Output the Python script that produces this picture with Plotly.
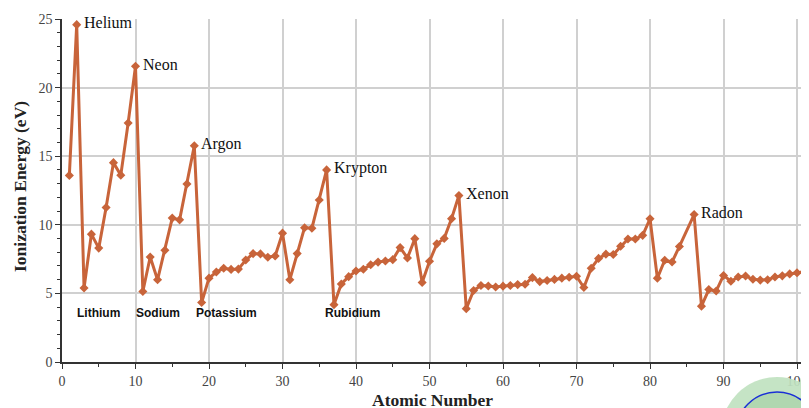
import plotly.graph_objects as go

atomic_number = list(range(1, 103))
ionization_ev = [
    13.60, 24.59, 5.39, 9.32, 8.30, 11.26, 14.53, 13.62, 17.42, 21.56,
    5.14, 7.65, 5.99, 8.15, 10.49, 10.36, 12.97, 15.76, 4.34, 6.11,
    6.56, 6.83, 6.75, 6.77, 7.43, 7.90, 7.88, 7.64, 7.73, 9.39,
    6.00, 7.90, 9.79, 9.75, 11.81, 14.00, 4.18, 5.69, 6.22, 6.63,
    6.76, 7.09, 7.28, 7.36, 7.46, 8.34, 7.58, 8.99, 5.79, 7.34,
    8.61, 9.01, 10.45, 12.13, 3.89, 5.21, 5.58, 5.54, 5.47, 5.53,
    5.58, 5.64, 5.67, 6.15, 5.86, 5.94, 6.02, 6.11, 6.18, 6.25,
    5.43, 6.83, 7.55, 7.86, 7.83, 8.44, 8.97, 8.96, 9.23, 10.44,
    6.11, 7.42, 7.29, 8.42, None, 10.75, 4.07, 5.28, 5.17, 6.31,
    5.89, 6.19, 6.27, 6.03, 5.97, 5.99, 6.20, 6.28, 6.42, 6.50,
    6.58, 6.65,
]

peak_labels = ["Helium", "Neon", "Argon", "Krypton", "Xenon", "Radon"]
peak_z = [2, 10, 18, 36, 54, 86]

low_labels = ["Lithium", "Sodium", "Potassium", "Rubidium"]
low_x = [4.9, 13.1, 22.4, 39.5]
low_y = [3.55, 3.55, 3.55, 3.55]

x_ticks = [0, 10, 20, 30, 40, 50, 60, 70, 80, 90, 100]
y_ticks = [0, 5, 10, 15, 20, 25]

line_color = "#C8643A"
serif = "Liberation Serif"

# page offset from default body margin
OFF = 8
W, H = 809 - OFF, 408 - OFF
PL, PR, PT, PB = 62 - OFF, 809 - OFF, 19 - OFF, 362 - OFF

def px_to_paper_x(px):
    return (px - OFF - PL) / float(PR - PL)

def px_to_paper_y(py):
    return (PB - (py - OFF)) / float(PB - PT)

fig = go.Figure()
fig.add_trace(go.Scatter(
    x=atomic_number, y=ionization_ev, mode="lines+markers",
    connectgaps=True,
    line=dict(color=line_color, width=3),
    marker=dict(symbol="diamond", size=7, color=line_color),
    showlegend=False, hoverinfo="x+y",
))

annotations = []
for name, z in zip(peak_labels, peak_z):
    annotations.append(dict(
        x=z, y=ionization_ev[z - 1], xref="x", yref="y", text=name,
        showarrow=False, xanchor="left", yanchor="middle", xshift=5, yshift=2,
        font=dict(family=serif, size=16, color="#111"),
    ))
for name, xv, yv in zip(low_labels, low_x, low_y):
    annotations.append(dict(
        x=xv, y=yv, xref="x", yref="y", text="<b>" + name + "</b>",
        showarrow=False, xanchor="center", yanchor="middle",
        font=dict(family="Liberation Sans", size=12, color="#111"),
    ))

# axis titles
annotations.append(dict(
    x=px_to_paper_x(432), y=px_to_paper_y(400), xref="paper", yref="paper",
    text="<b>Atomic Number</b>", showarrow=False, xanchor="center", yanchor="middle",
    font=dict(family=serif, size=17.5, color="#222"),
))
annotations.append(dict(
    x=px_to_paper_x(20), y=px_to_paper_y(187), xref="paper", yref="paper",
    text="<b>Ionization Energy (eV)</b>", showarrow=False, textangle=-90,
    xanchor="center", yanchor="middle",
    font=dict(family=serif, size=17.5, color="#222"),
))

# decorative circle at bottom-right (page overlay)
CX, CY = 777, 433
shapes = [
    dict(type="circle", xref="paper", yref="paper", layer="above",
         x0=px_to_paper_x(CX - 56), x1=px_to_paper_x(CX + 56),
         y0=px_to_paper_y(CY + 56), y1=px_to_paper_y(CY - 56),
         fillcolor="rgba(192,226,192,0.92)", line=dict(width=0)),
    dict(type="circle", xref="paper", yref="paper", layer="above",
         x0=px_to_paper_x(CX - 41), x1=px_to_paper_x(CX + 41),
         y0=px_to_paper_y(CY + 41), y1=px_to_paper_y(CY - 41),
         fillcolor="rgba(174,214,174,0.92)", line=dict(color="#1a2fd6", width=1.5)),
]

fig.update_layout(
    width=W, height=H,
    margin=dict(l=PL, r=W - PR, t=PT, b=H - PB, autoexpand=False),
    paper_bgcolor="white", plot_bgcolor="white",
    annotations=annotations, shapes=shapes,
    xaxis=dict(
        range=[0, 101.63], tickvals=x_ticks, automargin=False,
        showgrid=True, gridcolor="#d0d0d0", gridwidth=1.5,
        showline=True, linecolor="#333", linewidth=1.5,
        ticks="outside", ticklen=5, tickcolor="#333",
        minor=dict(dtick=5, tick0=0, ticks="outside", ticklen=3, tickcolor="#333", showgrid=False),
        tickfont=dict(family=serif, size=14, color="#444"),
        zeroline=False,
    ),
    yaxis=dict(
        range=[0, 25], tickvals=y_ticks, automargin=False,
        showgrid=True, gridcolor="#d0d0d0", gridwidth=1.5,
        showline=True, linecolor="#333", linewidth=1.5,
        ticks="outside", ticklen=5, tickcolor="#333",
        minor=dict(dtick=1, tick0=0, ticks="outside", ticklen=3, tickcolor="#333", showgrid=False),
        tickfont=dict(family=serif, size=14, color="#444"),
        zeroline=False,
    ),
)

fig.write_html("out.html")
